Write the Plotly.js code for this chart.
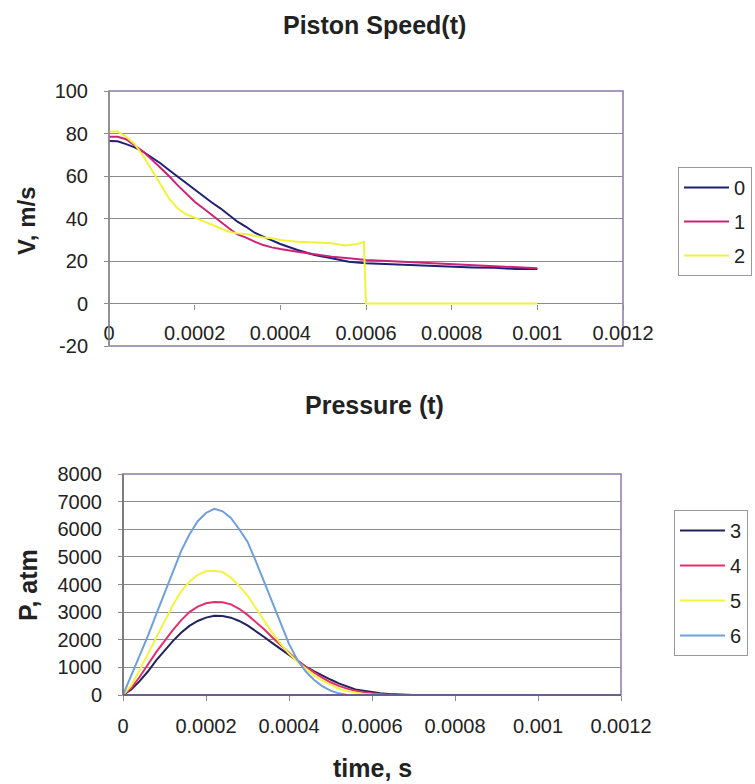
<!DOCTYPE html>
<html>
<head>
<meta charset="utf-8">
<script src="https://cdn.plot.ly/plotly-3.0.1.min.js"></script>
<style>html,body{margin:0;padding:0;background:#fff;}#chart{width:755px;height:784px;}</style>
</head>
<body>
<div id="chart"></div>
<script>
// ---- Top chart: Piston Speed(t) ----
const tTop = [0,0.00002,0.00004,0.00006,0.00008,0.0001,0.00012,0.00014,0.00016,0.00018,0.0002,
  0.00022,0.00024,0.00026,0.00028,0.0003,0.00032,0.00034,0.00036,0.00038,0.0004,
  0.00044,0.00048,0.00052,0.00056,0.0006,0.00065,0.0007,0.00075,0.0008,0.00085,0.0009,0.00095,0.001];
const speed0 = [76.5,76.3,75,73.5,71.4,68.8,66,62.8,59.7,56.5,53.4,50.6,47.5,44.8,41.6,38.5,36.1,33.3,31.5,29.6,28,
  25.2,22.8,21.3,19.7,18.9,18.5,18.2,17.5,17.2,17,16.8,16.2,16.2];
const speed1 = [78.5,78.5,77.3,74.5,71.4,67.8,64,60,55.7,51.8,47.9,44.8,41.6,38.5,35.4,32.5,31,29.1,27.5,26.4,25.6,
  24.4,23.1,22,21.3,20.5,20,19.5,18.8,18.3,17.8,17.3,17,16.6];
const tSpeed2 = [0,0.00002,0.00004,0.00006,0.00008,0.0001,0.00012,0.00014,0.00016,0.00018,0.0002,
  0.00022,0.00024,0.00026,0.00028,0.0003,0.00032,0.00034,0.00036,0.00038,0.0004,
  0.00044,0.00048,0.00052,0.00055,0.00058,0.000595,0.0006,0.00065,0.0007,0.0008,0.0009,0.001];
const speed2 = [80.9,80.9,78.5,75,69.4,62.8,55.7,49.5,44.8,42,40.4,38.8,37.2,35.4,33.8,33,32.7,31.9,31.1,30.7,29.9,
  29.1,28.6,28.3,27.3,28,29,0,0,0,0,0,0];
const namesTop = ['0','1','2'];
const yTopTickVals = [-20,0,20,40,60,80,100];
const yTopTickText = ['-20','0','20','40','60','80','100'];

// ---- Bottom chart: Pressure (t) ----
const tBot = [0,0.00002,0.00004,0.00006,0.00008,0.0001,0.00012,0.00014,0.00016,0.00018,0.0002,
  0.00022,0.00024,0.00026,0.00028,0.0003,0.00032,0.00034,0.00036,0.00038,0.0004,
  0.00042,0.00044,0.00046,0.00048,0.0005,0.00052,0.00054,0.00056,0.00058,0.0006,
  0.00062,0.00064,0.00066,0.00068,0.0007,0.0008,0.0009,0.001];
const press3 = [0,200,500,850,1250,1600,1950,2250,2500,2680,2800,2870,2860,2800,2680,2520,2320,2100,1880,1660,1440,
  1230,1030,860,700,560,420,300,200,150,100,60,40,30,10,0,0,0,0];
const press4 = [0,250,650,1100,1550,1950,2350,2700,3000,3200,3320,3370,3360,3280,3120,2900,2650,2380,2080,1800,1520,
  1260,1020,820,630,460,330,230,150,100,60,30,10,0,0,0,0,0,0];
const press5 = [0,350,900,1500,2050,2650,3250,3750,4100,4350,4480,4500,4450,4250,3950,3600,3150,2700,2250,1850,1500,
  1200,950,720,520,360,230,140,80,40,20,0,0,0,0,0,0,0,0];
const press6 = [0,700,1420,2140,2920,3700,4490,5210,5810,6290,6590,6740,6650,6410,6000,5550,4850,4100,3300,2550,1850,
  1280,860,550,320,160,60,0,0,0,0,0,0,0,0,0,0,0,0];
const namesBot = ['3','4','5','6'];

const xTickVals = [0,0.0002,0.0004,0.0006,0.0008,0.001,0.0012];
const xTickText = ['0','0.0002','0.0004','0.0006','0.0008','0.001','0.0012'];

const FONT = 'Liberation Sans, Arial, sans-serif';
const TXT = '#222';
const GRID = '#8c8c8c';
const BORDER = '#8a7aaa';

const topColors = ['#1f1f78','#cc2277','#f2f23a'];
const botColors = ['#23235e','#e3306b','#f4f440','#6f9fdc'];

const traces = [
  {x: tTop, y: speed0, name: namesTop[0], legendgroup:'a'},
  {x: tTop, y: speed1, name: namesTop[1], legendgroup:'b'},
  {x: tSpeed2, y: speed2, name: namesTop[2], legendgroup:'c'}
].map((t,i)=>Object.assign(t,{type:'scatter',mode:'lines',xaxis:'x',yaxis:'y',legend:'legend',
  line:{color:topColors[i],width:2}}));

const traces2 = [
  {x: tBot, y: press3, name: namesBot[0], legendgroup:'d'},
  {x: tBot, y: press4, name: namesBot[1], legendgroup:'e'},
  {x: tBot, y: press5, name: namesBot[2], legendgroup:'f'},
  {x: tBot, y: press6, name: namesBot[3], legendgroup:'g'}
].map((t,i)=>Object.assign(t,{type:'scatter',mode:'lines',xaxis:'x2',yaxis:'y2',legend:'legend2',
  line:{color:botColors[i],width:2}}));

const tickFont = {family: FONT, size: 20, color: TXT};

const layout = {
  width: 755, height: 784,
  margin: {l:0, r:0, t:0, b:0},
  paper_bgcolor: '#fff', plot_bgcolor: '#fff',
  showlegend: true,
  xaxis: {domain:[109/755, 623/755], range:[0,0.0012], anchor:'free', position: 1-303.5/784,
    tickvals:xTickVals, ticktext:xTickText, showgrid:false, zeroline:false, showline:false,
    ticks:'outside', ticklen:5, tickcolor:GRID, tickfont:tickFont, ticklabelstandoff:6},
  yaxis: {domain:[1-346/784, 1-91/784], range:[-20,100], anchor:'x',
    tickvals:yTopTickVals, ticktext:yTopTickText,
    showgrid:true, gridcolor:GRID, gridwidth:1, zeroline:false, showline:false,
    ticks:'outside', ticklen:4, tickcolor:GRID, tickfont:tickFont, ticklabelstandoff:12},
  xaxis2: {domain:[123/755, 621/755], range:[0,0.0012], anchor:'y2',
    tickvals:xTickVals, ticktext:xTickText, showgrid:false, zeroline:false, showline:false,
    ticks:'outside', ticklen:5, tickcolor:GRID, tickfont:tickFont, ticklabelstandoff:8},
  yaxis2: {domain:[1-695/784, 1-474/784], range:[0,8000], dtick:1000, anchor:'x2',
    showgrid:true, gridcolor:GRID, gridwidth:1, zeroline:false, showline:false,
    ticks:'outside', ticklen:4, tickcolor:GRID, tickfont:tickFont, ticklabelstandoff:12},
  legend: {x:678/755, y:1-167/784, xanchor:'left', yanchor:'top',
    font:{family:FONT, size:20, color:TXT}, bgcolor:'#fff', bordercolor:'#999', borderwidth:1,
    tracegroupgap:5, itemwidth:45, itemclick:false},
  legend2: {x:674/755, y:1-510/784, xanchor:'left', yanchor:'top',
    font:{family:FONT, size:20, color:TXT}, bgcolor:'#fff', bordercolor:'#999', borderwidth:1,
    tracegroupgap:6, itemwidth:45, itemclick:false},
  shapes: [
    {type:'rect', xref:'x domain', yref:'y domain', x0:0, x1:1, y0:0, y1:1, line:{color:BORDER, width:1.5}, layer:'below'},
    {type:'line', xref:'x domain', yref:'y domain', x0:0, x1:0, y0:0, y1:1, line:{color:'#8c8c8c', width:1.5}},
    {type:'rect', xref:'x2 domain', yref:'y2 domain', x0:0, x1:1, y0:0, y1:1, line:{color:BORDER, width:1.5}, layer:'below'},
    {type:'line', xref:'x2 domain', yref:'y2 domain', x0:0, x1:0, y0:0, y1:1, line:{color:'#707070', width:1.5}},
    {type:'line', xref:'x2 domain', yref:'y2 domain', x0:0, x1:1, y0:0, y1:0, line:{color:'#5a4a78', width:1.5}}
  ],
  annotations: [
    {text:'<b>Piston Speed(t)</b>', xref:'paper', yref:'paper', x:374/755, y:1-25/784, showarrow:false,
      xanchor:'center', yanchor:'middle', font:{family:FONT, size:25, color:TXT}},
    {text:'<b>V, m/s</b>', xref:'paper', yref:'paper', x:26/755, y:1-221/784, showarrow:false, textangle:-90,
      xanchor:'center', yanchor:'middle', font:{family:FONT, size:24, color:TXT}},
    {text:'<b>Pressure (t)</b>', xref:'paper', yref:'paper', x:374/755, y:1-405/784, showarrow:false,
      xanchor:'center', yanchor:'middle', font:{family:FONT, size:25, color:TXT}},
    {text:'<b>P, atm</b>', xref:'paper', yref:'paper', x:28/755, y:1-585/784, showarrow:false, textangle:-90,
      xanchor:'center', yanchor:'middle', font:{family:FONT, size:25, color:TXT}},
    {text:'<b>time, s</b>', xref:'paper', yref:'paper', x:372/755, y:1-768/784, showarrow:false,
      xanchor:'center', yanchor:'middle', font:{family:FONT, size:25, color:TXT}}
  ]
};

Plotly.newPlot('chart', traces.concat(traces2), layout, {staticPlot:true, displayModeBar:false});
</script>
</body>
</html>
